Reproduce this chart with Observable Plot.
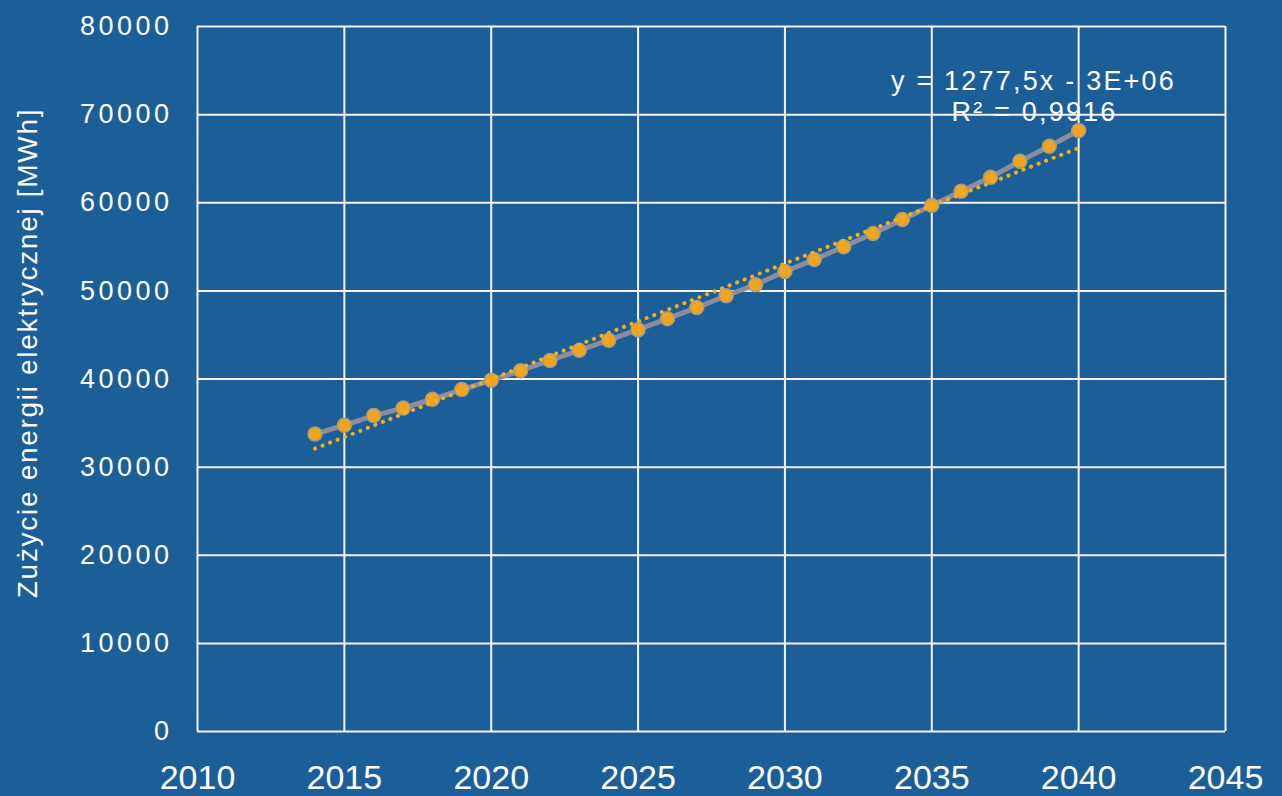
<!DOCTYPE html>
<html>
<head>
<meta charset="utf-8">
<script src="https://cdn.jsdelivr.net/npm/d3@7"></script>
<script src="https://cdn.jsdelivr.net/npm/@observablehq/plot@0.6"></script>
<style>
  html, body { margin: 0; padding: 0; background: #1c5e98; }
  #chart svg { display: block; }
  .yax text { letter-spacing: 3.5px; }
  .ytitle text { letter-spacing: 1.7px; }
  .trend text { letter-spacing: 2.2px; }
</style>
</head>
<body>
<div id="chart"></div>
<script>
const years = [2014,2015,2016,2017,2018,2019,2020,2021,2022,2023,2024,2025,2026,2027,2028,2029,2030,2031,2032,2033,2034,2035,2036,2037,2038,2039,2040];
const consumption = [33750,34750,35850,36700,37700,38800,39850,40950,42100,43250,44400,45600,46850,48100,49450,50700,52200,53550,55000,56500,58100,59700,61300,62900,64700,66400,68200];
const xTicks = [2010,2015,2020,2025,2030,2035,2040,2045];
const yTicks = [0,10000,20000,30000,40000,50000,60000,70000,80000];
const yTitle = "Zużycie energii elektrycznej [MWh]";
const trendLabel = ["y = 1277,5x - 3E+06", "R² = 0,9916"];

const data = years.map((year, i) => ({year, value: consumption[i]}));

const chart = Plot.plot({
  width: 1282,
  height: 796,
  marginLeft: 197,
  marginRight: 57,
  marginTop: 26,
  marginBottom: 65,
  style: {background: "#1c5e98", color: "white", fontFamily: "'Liberation Sans', Arial, sans-serif"},
  x: {domain: [2010, 2045]},
  y: {domain: [0, 80000]},
  marks: [
    Plot.gridX(xTicks, {stroke: "#f4f4f4", strokeOpacity: 1, strokeWidth: 2}),
    Plot.gridY(yTicks, {stroke: "#f4f4f4", strokeOpacity: 1, strokeWidth: 2}),
    Plot.axisX(xTicks, {tickSize: 0, tickPadding: 33, fontSize: 34, tickFormat: d => String(d), label: null}),
    Plot.axisY(yTicks, {tickSize: 0, tickPadding: 25, fontSize: 27, tickFormat: d => String(d), label: null, className: "yax"}),
    Plot.text([yTitle], {frameAnchor: "left", textAnchor: "middle", rotate: -90, dx: -169, dy: -26, fontSize: 28, fill: "white", className: "ytitle"}),
    Plot.lineY(data, {x: "year", y: "value", stroke: "#8d8c9e", strokeWidth: 5}),
    Plot.dot(data, {x: "year", y: "value", r: 7, fill: "#f1a51f", stroke: "#a59a86", strokeWidth: 1.5}),
    Plot.linearRegressionY(data, {x: "year", y: "value", ci: 0, stroke: "#f3b01a", strokeWidth: 4, strokeDasharray: "0.1 8", strokeLinecap: "round"}),
    Plot.text([trendLabel[0]], {frameAnchor: "top-right", textAnchor: "middle", dx: -192, dy: 44, fontSize: 27, fill: "white", className: "trend"}),
    Plot.text([trendLabel[1]], {frameAnchor: "top-right", textAnchor: "middle", dx: -191, dy: 75, fontSize: 27, fill: "white", className: "trend"})
  ]
});
document.getElementById("chart").appendChild(chart);
</script>
</body>
</html>
